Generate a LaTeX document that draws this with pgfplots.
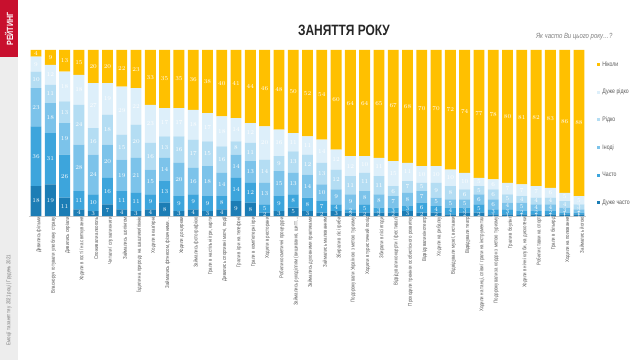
\documentclass[border=0pt]{standalone}
\usepackage{fontspec}
\setmainfont{Liberation Sans}
\newfontfamily\narrowfont[FakeStretch=0.8]{Liberation Sans}
\usepackage{pgfplots}
\usepackage{pgfplotstable}
\pgfplotsset{compat=1.18}
\definecolor{cN}{HTML}{FFC000}
\definecolor{cDR}{HTML}{DDEFFA}
\definecolor{cR}{HTML}{B4DDF3}
\definecolor{cI}{HTML}{7CC3EA}
\definecolor{cC}{HTML}{3DA5DC}
\definecolor{cDC}{HTML}{1C7DB5}
\definecolor{redband}{HTML}{C8102E}
\definecolor{greyband}{HTML}{EDEDED}
\definecolor{txtgrey}{HTML}{595959}

\pgfplotstableread{
idx dc c i r dr n
0 18 36 23 10 9 4
1 19 31 18 11 12 9
2 11 26 19 13 18 13
3 4 11 28 24 18 15
4 3 10 24 16 27 20
5 7 16 20 18 19 20
6 4 11 19 15 29 22
7 3 11 21 20 22 23
8 4 9 15 16 23 33
9 8 13 14 13 17 35
10 3 9 20 16 17 35
11 4 9 16 17 18 36
12 3 9 18 15 17 38
13 4 8 14 16 18 40
14 9 14 14 8 14 41
15 8 12 13 11 12 44
16 2 5 13 14 20 46
17 3 9 15 9 16 48
18 5 8 13 13 11 50
19 3 8 14 12 11 52
20 2 7 10 13 14 54
21 3 4 9 12 12 60
22 2 2 9 11 12 64
23 2 5 8 11 10 64
24 2 3 8 11 11 65
25 2 3 7 6 15 67
26 3 3 8 7 11 68
27 2 6 7 5 10 70
28 2 4 5 9 10 70
29 1 4 5 8 10 72
30 2 3 5 6 10 74
31 2 5 6 5 5 77
32 1 3 6 6 6 78
33 1 3 4 5 7 80
34 1 2 5 4 7 81
35 1 2 4 4 7 82
36 1 2 4 4 6 83
37 1 1 3 4 5 86
38 1 1 2 3 5 88
}\data
% label positions: middle of each stacked segment
\pgfplotstablecreatecol[expr={\thisrow{dc}/2}]{m1}\data
\pgfplotstablecreatecol[expr={\thisrow{dc}+\thisrow{c}/2}]{m2}\data
\pgfplotstablecreatecol[expr={\thisrow{dc}+\thisrow{c}+\thisrow{i}/2}]{m3}\data
\pgfplotstablecreatecol[expr={\thisrow{dc}+\thisrow{c}+\thisrow{i}+\thisrow{r}/2}]{m4}\data
\pgfplotstablecreatecol[expr={\thisrow{dc}+\thisrow{c}+\thisrow{i}+\thisrow{r}+\thisrow{dr}/2}]{m5}\data
\pgfplotstablecreatecol[expr={\thisrow{dc}+\thisrow{c}+\thisrow{i}+\thisrow{r}+\thisrow{dr}+\thisrow{n}/2}]{m6}\data

\pgfplotsset{
  geom/.style={
    at={(28.9bp,144bp)}, anchor=south west,
    scale only axis, width=557.2bp, height=166bp,
    xmin=-0.5, xmax=38.5, ymin=0, ymax=100,
  },
  lbl/.style={
    draw=none, mark=none, forget plot,
    point meta=explicit,
    nodes near coords,
    every node near coord/.append style={anchor=center,
      font=\narrowfont\fontsize{6.5}{6.5}\selectfont, text=white, inner sep=0pt},
  }
}

\begin{document}
\begin{tikzpicture}[x=1bp,y=1bp]
\useasboundingbox (0,0) rectangle (640,360);
\fill[white] (0,0) rectangle (640,360);
\fill[greyband] (0,0) rectangle (18,303);
\fill[redband] (0,303) rectangle (18,360);
\node[rotate=90, text=white, font=\narrowfont\bfseries\fontsize{9}{10}\selectfont] at (9,331) {РЕЙТИНГ};
\node[rotate=90, text=txtgrey!80, font=\narrowfont\fontsize{5.5}{6}\selectfont] at (9,60) {Емоції та заняття у 2021 році | Грудень 2021};
\node[font=\narrowfont\bfseries\fontsize{15}{17}\selectfont, text=black!85] at (344,330) {ЗАНЯТТЯ РОКУ};
\node[font=\narrowfont\itshape\fontsize{7.5}{9}\selectfont, text=black!50, anchor=east] at (616,323) {Як часто Ви цього року\ldots?};
\begin{axis}[
  geom,
  ybar stacked, bar width=0.76,
  axis y line=none,
  axis x line*=bottom,
  x axis line style={draw=black!20},
  xtick={0,1,2,3,4,5,6,7,8,9,10,11,12,13,14,15,16,17,18,19,20,21,22,23,24,25,26,27,28,29,30,31,32,33,34,35,36,37,38},
  xtick style={draw=none},
  xticklabels={Дивились фільми, Власноруч готували улюблену страву, Дивились серіали, Ходили в гості / на святкування, Споживали алкоголь, Читали / слухали книги, Займались шопінгом, Їздили на природу на шашлики/пікнік, Ходили в кав'ярні, {Займались фітнесом, фізичними\ldots}, Ходили до церкви, Займались фотографією, {Грали в настільні ігри, карти}, {Дивились спортивні матчі, події}, Грали в ігри на телефоні, Грали в комп'ютерні ігри, Ходили в ресторани, Робили косметичні процедури, {Займались рукоділлям (вишивання, шитт\ldots}, Займались духовними практиками, Займались малюванням, Збирали в лісі гриби, Подорожували Україною з метою туризму, Ходили в туристичний похід, Збирали в лісі ягоди, Відвідували концерти / фестивалі, Проходили тренінги особистісного розвитку, Відвідували кінотеатр, Ходили на рибалку, {Відвідували музеї, виставки}, Відвідували театр, {Ходили на танці, співи / грали на інструментах}, Подорожували за кордон з метою туризму, Грали в боулінг, {Ходили в нічні клуби, на дискотеки}, Робили ставки на спорт, Грали в більярд, Ходили на полювання, Займались йогою},
  xticklabel style={rotate=90, anchor=east, font=\narrowfont\fontsize{5.5}{6}\selectfont, text=txtgrey, inner sep=1bp, yshift=-3bp},
  legend style={at={(1.02,0.945)}, anchor=north west, draw=none, fill=none,
    font=\narrowfont\fontsize{6.5}{7}\selectfont, text=txtgrey, row sep=17.6bp, inner sep=0pt},
  legend cell align=left,
  legend image code/.code={\fill[#1] (0bp,-1.5bp) rectangle (3bp,1.5bp);},
  reverse legend,
]
\addplot[fill=cDC, draw=none] table[x=idx, y=dc] {\data};
\addplot[fill=cC, draw=none] table[x=idx, y=c] {\data};
\addplot[fill=cI, draw=none] table[x=idx, y=i] {\data};
\addplot[fill=cR, draw=none] table[x=idx, y=r] {\data};
\addplot[fill=cDR, draw=none] table[x=idx, y=dr] {\data};
\addplot[fill=cN, draw=none] table[x=idx, y=n] {\data};
\legend{Дуже часто, Часто, Іноді, Рідко, Дуже рідко, Ніколи}
\end{axis}
\begin{axis}[geom, hide axis]
\addplot[lbl] table[x=idx, y=m1, meta=dc] {\data};
\addplot[lbl] table[x=idx, y=m2, meta=c] {\data};
\addplot[lbl] table[x=idx, y=m3, meta=i] {\data};
\addplot[lbl] table[x=idx, y=m4, meta=r] {\data};
\addplot[lbl] table[x=idx, y=m5, meta=dr] {\data};
\addplot[lbl] table[x=idx, y=m6, meta=n] {\data};
\end{axis}
\end{tikzpicture}
\end{document}
